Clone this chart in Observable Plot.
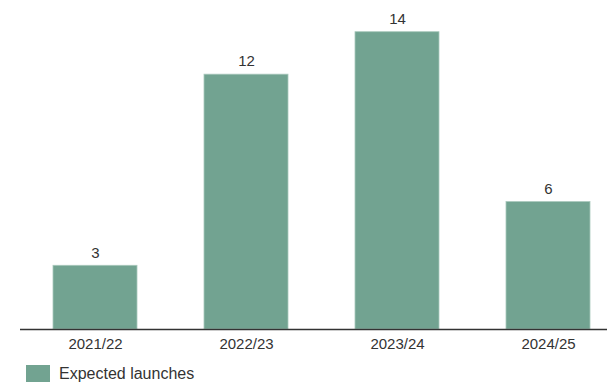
<!DOCTYPE html>
<html>
<head>
<meta charset="utf-8">
<script src="https://cdn.jsdelivr.net/npm/d3@7"></script>
<script src="https://cdn.jsdelivr.net/npm/@observablehq/plot@0.6"></script>
<style>
  body { margin: 0; background: #fff; font-family: Arial, "Liberation Sans", sans-serif; }
  #legend { display: flex; align-items: flex-start; margin-top: 13px; margin-left: 26px; font-size: 16px; line-height: 18px; color: #333; }
  #legend .sw { width: 24px; height: 17px; background: #72a391; margin-right: 9px; }
</style>
</head>
<body>
<div id="chart"></div>
<div id="legend"><span class="sw"></span><span>Expected launches</span></div>
<script>
const years = ["2021/22", "2022/23", "2023/24", "2024/25"];
const launches = [3, 12, 14, 6];
const seriesName = "Expected launches";

const data = years.map((y, i) => ({year: y, value: launches[i]}));

const chart = Plot.plot({
  width: 607,
  height: 352,
  marginLeft: 20,
  marginRight: 0,
  marginTop: 31.7,
  marginBottom: 23,
  style: {fontFamily: "Arial, 'Liberation Sans', sans-serif", fontSize: "15px", color: "#333", background: "#fff"},
  x: {domain: years, range: [53, 590], paddingInner: 0.444, paddingOuter: 0, label: null},
  y: {domain: [0, 14], axis: null},
  marks: [
    Plot.barY(data, {x: "year", y: "value", fill: "#72a391", stroke: "#a9c8bc", strokeWidth: 0.8}),
    Plot.text(data, {x: "year", y: "value", text: d => String(d.value), dy: -13, fill: "#333", fontSize: 15}),
    Plot.ruleY([0], {stroke: "#333", strokeWidth: 1.5}),
    Plot.axisX({tickSize: 0, tickPadding: 9, fontSize: 15, fill: "#333", label: null})
  ]
});
document.getElementById("chart").appendChild(chart);
</script>
</body>
</html>
